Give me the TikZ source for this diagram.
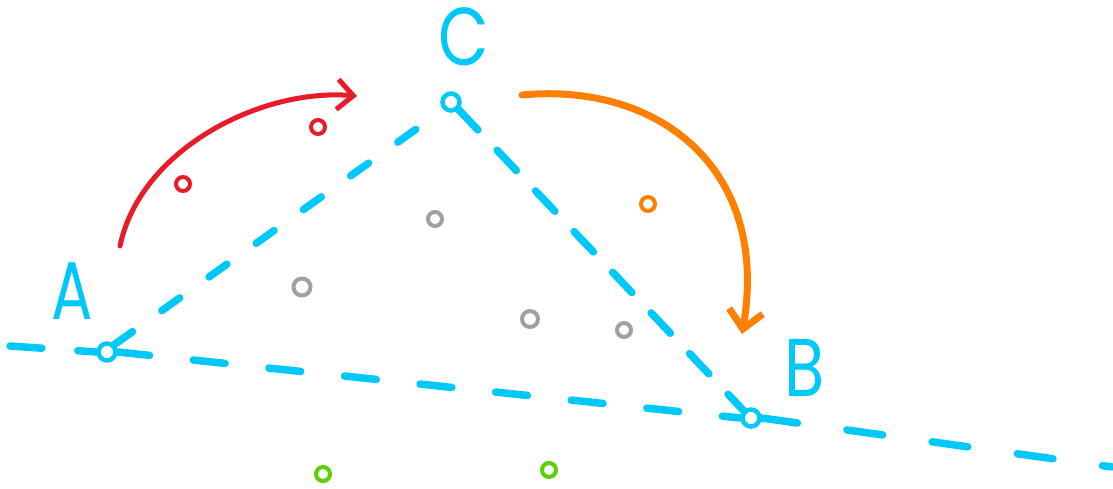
\documentclass[tikz,border=0pt]{standalone}
\usepackage{fontspec}
\newfontfamily\handfont{Poppins}
\usetikzlibrary{arrows.meta}
\definecolor{skyc}{RGB}{0,200,248}
\definecolor{redc}{RGB}{232,28,40}
\definecolor{orgc}{RGB}{255,128,0}
\definecolor{grayc}{RGB}{160,160,160}
\definecolor{grnc}{RGB}{90,210,0}
\tikzset{
  vertex/.style={circle,draw=skyc,line width=4.5pt,minimum size=17pt,inner sep=0pt,fill=white},
  lbl/.style={text=skyc,font=\handfont\fontsize{82}{84}\selectfont,inner sep=0pt},
  dashline/.style={draw=skyc,line width=7.5pt,line cap=round,dash pattern=on 22pt off 36pt},
  dot/.style={circle,line width=4pt,minimum size=14pt,inner sep=0pt},
  curvearrow/.style={line width=5pt,line cap=round,-{Straight Barb[length=16pt,width=30pt,line width=5pt]}}
}
\begin{document}
\begin{tikzpicture}[x=1pt,y=-1pt]
\useasboundingbox (0,0) rectangle (1113,488);
% baseline
\coordinate (L) at (10,346);
\coordinate (R) at (1112,467);
\node[vertex] (A) at (107,352) {};
\node[vertex] (C) at (451,102) {};
\node[vertex] (B) at (751,418) {};
\draw[dashline,dash pattern=on 32pt off 36pt] (L) -- (A.west);
\draw[dashline,dash pattern=on 32pt off 44pt] (A.east) -- (B.west);
\draw[dashline,dash pattern=on 36pt off 50pt] (B.east) -- (R);
\draw[dashline] (A.north east) -- (C.south west);
\draw[dashline,dash pattern=on 28pt off 28pt] (C.south east) -- (B.north west);
% labels
\node[lbl] (la) at (72,291) {\scalebox{0.75}[1]{A}};
\node[lbl] (lc) at (464,37) {\scalebox{0.8}[1]{C}};
\node[lbl] (lb) at (805,368) {\scalebox{0.8}[1]{B}};
% arrows
\coordinate (r1) at (120,246);
\coordinate (r2) at (357,96);
\draw[curvearrow,draw=redc] (r1) .. controls (140,150) and (260,88) .. (r2);
\coordinate (o1) at (522,95);
\coordinate (o2) at (742,334);
\draw[curvearrow,draw=orgc,line width=7pt,-{Straight Barb[length=18pt,width=34pt,line width=7pt]}] (o1) .. controls (660,82) and (770,170) .. (o2);
% small marks
\node[dot,draw=redc] (d1) at (183,184) {};
\node[dot,draw=redc] (d2) at (318,127) {};
\node[dot,draw=orgc] (d3) at (648,204) {};
\node[dot,draw=grayc] (g1) at (435,219) {};
\node[dot,draw=grayc,minimum size=17pt] (g2) at (302,287) {};
\node[dot,draw=grayc,minimum size=16pt] (g3) at (530,319) {};
\node[dot,draw=grayc] (g4) at (624,330) {};
\node[dot,draw=grnc] (n1) at (323,474) {};
\node[dot,draw=grnc] (n2) at (549,470) {};
\end{tikzpicture}
\end{document}
